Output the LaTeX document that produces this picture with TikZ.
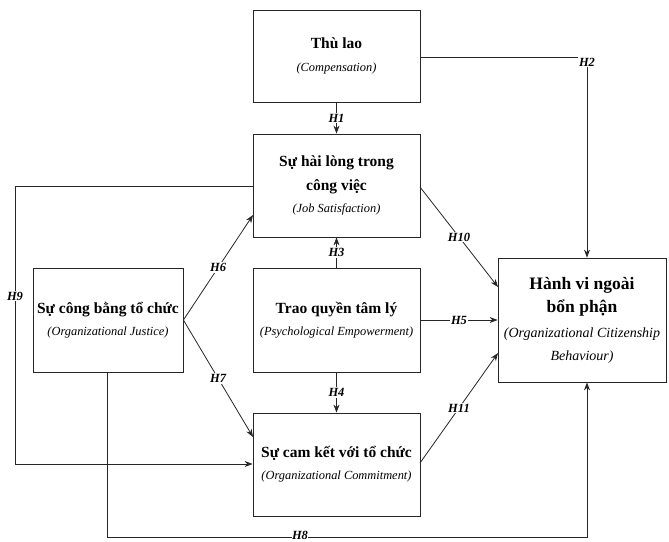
\documentclass[tikz,border=0pt]{standalone}
\usepackage{fontspec}
\setmainfont{Liberation Serif}
\usetikzlibrary{arrows.meta}
\begin{document}
\begin{tikzpicture}[x=1pt,y=-1pt,
  box/.style={draw=black!85,line width=0.8pt,fill=white,align=center,inner sep=2pt,
    font=\fontsize{15.5}{23}\selectfont\bfseries},
  conn/.style={draw=black!85,line width=0.8pt},
  arr/.style={conn,-{Stealth[length=8pt,width=6pt]}},
  hlab/.style={fill=white,inner sep=1pt,font=\fontsize{12.5}{13}\selectfont\bfseries\itshape}]
\useasboundingbox (0,0) rectangle (669,541);
% boxes
\node[box,minimum width=167pt,minimum height=92pt] (comp) at (336.5,56)
  {Thù lao\\{\fontsize{12.4}{23}\selectfont\mdseries\itshape (Compensation)}};
\node[box,minimum width=167pt,minimum height=103pt] (js) at (336.5,185.5)
  {Sự hài lòng trong\\[1pt]công việc\\[-1pt]{\fontsize{12.4}{23}\selectfont\mdseries\itshape (Job Satisfaction)}};
\node[box,minimum width=150pt,minimum height=104pt] (oj) at (108,320)
  {Sự công bằng tổ chức\\[-1pt]{\fontsize{12.4}{23}\selectfont\mdseries\itshape (Organizational Justice)}};
\node[box,minimum width=167pt,minimum height=104pt] (pe) at (336.5,320)
  {Trao quyền tâm lý\\[-1pt]{\fontsize{12.4}{23}\selectfont\mdseries\itshape (Psychological Empowerment)}};
\node[box,minimum width=167pt,minimum height=103pt] (oc) at (336.5,464.5)
  {Sự cam kết với tổ chức\\[-1pt]{\fontsize{12.4}{23}\selectfont\mdseries\itshape (Organizational Commitment)}};
\node[box,minimum width=168pt,minimum height=124pt,font=\fontsize{17.5}{23}\selectfont\bfseries] (ocb) at (582,320)
  {Hành vi ngoài\\bổn phận\\[2pt]{\fontsize{14}{23}\selectfont\mdseries\itshape (Organizational Citizenship}\\{\fontsize{14}{23}\selectfont\mdseries\itshape Behaviour)}};
% coordinates
\coordinate (c2) at (587,57);
\coordinate (c9a) at (15,186);
\coordinate (c9b) at (15,464);
\coordinate (c8a) at (107,537);
\coordinate (c8b) at (587,537);
\coordinate (js10) at (420,187);
\coordinate (ocb10) at (498,287);
\coordinate (js6) at (253,215);
\coordinate (oc7) at (253,437);
\coordinate (oc11) at (420,463);
\coordinate (ocb11) at (498,353);
% connectors
\draw[arr] (comp.south) -- node[hlab]{H1} (js.north);
\draw[arr] (comp.east |- c2) -- (c2) -- (ocb.north -| c2);
\node[hlab] (h2) at (587,62) {H2};
\draw[arr] (pe.north) -- node[hlab]{H3} (js.south);
\draw[arr] (pe.south) -- node[hlab]{H4} (oc.north);
\draw[arr] (pe.east) -- node[hlab]{H5} (ocb.west);
\draw[arr] (oj.east) -- node[hlab]{H6} (js6);
\draw[arr] (oj.east) -- node[hlab]{H7} (oc7);
\draw[arr] (js10) -- node[hlab]{H10} (ocb10);
\draw[arr] (oc11) -- node[hlab]{H11} (ocb11);
\draw[arr] (js.west |- c9a) -- (c9a) -- (c9b) -- (oc.west |- c9b);
\node[hlab] (h9) at (15,296) {H9};
\draw[arr] (oj.south -| c8a) -- (c8a) -- (c8b) -- (ocb.south -| c8b);
\node[hlab,inner sep=0.5pt] (h8) at (300,535) {H8};
\end{tikzpicture}
\end{document}
